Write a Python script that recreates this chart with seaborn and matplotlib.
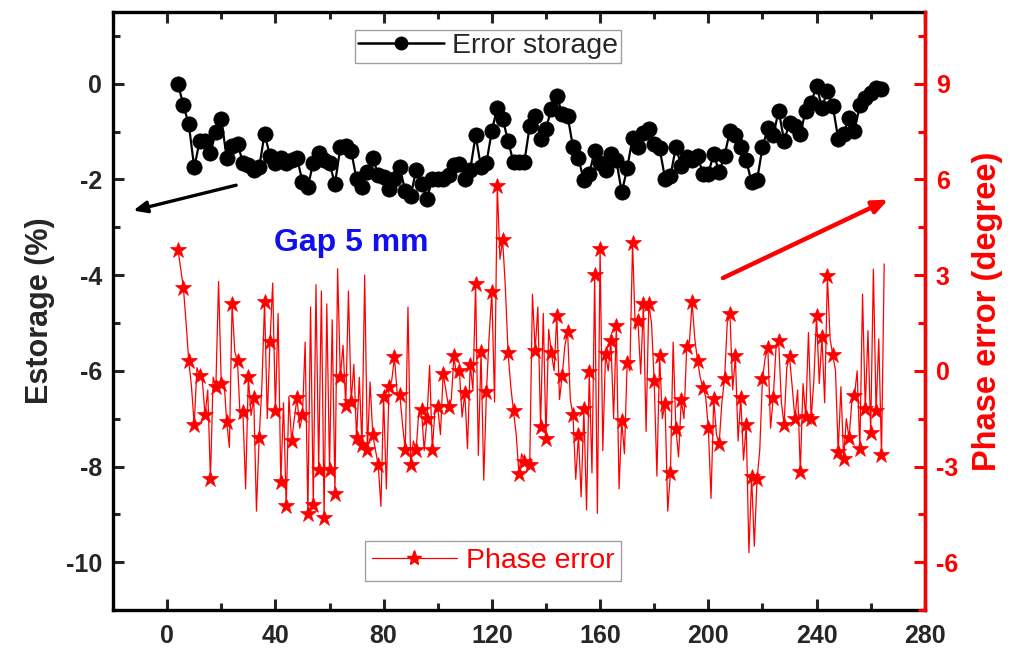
import numpy as np
import pandas as pd
import matplotlib
matplotlib.use("Agg")
import matplotlib.pyplot as plt
from matplotlib.lines import Line2D
import seaborn as sns

# ---------------- data ----------------
black_x = list(range(4, 265, 2))
black_y = [0.0, -0.45, -0.85, -1.75, -1.2, -1.2, -1.45, -1.0, -0.73, -1.55,
           -1.3, -1.25, -1.65, -1.7, -1.8, -1.75, -1.05, -1.5, -1.65, -1.55,
           -1.65, -1.6, -1.55, -2.05, -2.15, -1.65, -1.45, -1.6, -1.65, -2.1,
           -1.33, -1.3, -1.4, -2.0, -2.15, -1.85, -1.55, -1.9, -1.95, -2.2,
           -2.0, -1.75, -2.25, -2.35, -1.8, -2.1, -2.4, -2.0, -2.0, -2.0,
           -1.9, -1.7, -1.67, -1.98, -1.8, -1.08, -1.75, -1.65, -0.98, -0.5,
           -0.73, -1.2, -1.64, -1.64, -1.64, -0.88, -0.67, -1.15, -0.94, -0.52,
           -0.25, -0.63, -0.67, -1.33, -1.56, -2.02, -1.88, -1.4, -1.65, -1.8,
           -1.46, -1.6, -2.27, -1.77, -1.13, -1.33, -1.02, -0.94, -1.25, -1.35,
           -1.98, -1.92, -1.33, -1.71, -1.54, -1.6, -1.5, -1.88, -1.88, -1.46,
           -1.85, -1.5, -0.98, -1.08, -1.33, -1.6, -2.06, -2.02, -1.33, -0.92,
           -1.08, -0.56, -1.19, -0.83, -0.88, -1.04, -0.56, -0.4, -0.04, -0.5,
           -0.15, -0.46, -1.15, -1.04, -0.71, -0.98, -0.45, -0.3, -0.2, -0.08,
           -0.1]

red_x = list(range(4, 266))
red_y = [3.8, 3.2, 2.6, 1.5, 0.3, -0.5, -1.7, 0.1, -0.15, -0.3,
         -1.4, -0.6, -3.4, -0.2, -0.5, 2.8, -0.4, -0.3, -1.6, -2.4,
         2.1, 0.6, 0.3, -1.5, -1.3, -3.7, -0.2, -1.4, -0.85, -4.4,
         -2.1, -0.5, 2.15, -1.5, 0.9, 2.75, -1.25, 1.8, -3.5, -1.0,
         -4.25, -0.8, -2.2, -1.5, -0.85, -1.8, -1.4, 0.9, -4.5, 2.0,
         -4.2, 2.7, -3.1, 2.5, -4.6, 2.1, -3.1, 1.6, -3.85, 3.2,
         -0.2, 0.8, -1.1, 2.5, -0.98, 0.2, -2.12, -0.2, -2.33, 3.0,
         -2.49, -0.35, -2.02, -2.5, -2.96, -4.25, -0.82, -3.7, -0.51, -0.3,
         0.43, -0.7, -0.75, -1.7, -2.49, 2.0, -2.96, -2.2, -2.49, -1.3,
         -1.24, -2.5, -1.52, 0.17, -2.49, -1.2, -1.13, -2.0, -0.09, -0.6,
         -1.13, -0.9, 0.46, -0.2, 0.01, -1.45, -0.69, -2.44, 0.19, -0.6,
         2.72, -2.65, 0.6, -3.43, -0.65, 1.1, 2.46, -0.98, 5.81, 3.5,
         4.1, 2.6, 0.55, -0.5, -1.27, -2.0, -3.22, -2.6, -2.85, -3.0,
         -2.94, 2.4, 0.63, 2.0, -1.76, 1.8, -2.15, 1.3, 0.56, 0.0,
         1.73, -0.9, -0.15, 0.8, 1.21, -0.9, -1.4, -3.4, -2.02, -3.95,
         -1.19, -4.36, -0.04, -3.2, 3.0, -4.47, 3.83, -2.5, 0.53, 0.0,
         0.92, -1.5, 1.42, -3.7, -1.58, -2.6, 0.25, 0.0, 4.0, 1.3,
         1.57, -0.1, 2.09, -1.9, 2.09, 1.5, -0.33, -3.3, 0.48, -1.5,
         -1.03, -4.4, -3.19, 0.9, -1.81, -2.7, -0.93, -1.5, 0.74, 0.9,
         2.15, 1.0, 0.32, -0.2, -0.54, -0.8, -1.79, -4.0, -0.88, -2.0,
         -2.28, -1.0, -0.25, 1.5, 1.78, -0.6, 0.46, -2.2, -0.85, -2.8,
         -1.71, -5.7, -3.32, -5.5, -3.4, -2.5, -0.27, 0.4, 0.71, -1.8,
         -0.85, 0.7, 0.92, -1.0, -1.69, 0.1, 0.43, -0.5, -1.52, -0.6,
         -3.17, -0.4, -1.45, 1.2, -1.52, -0.3, 1.73, -0.4, 1.05, -1.0,
         2.98, 1.0, 0.5, 0.0, -2.56, -0.5, -2.75, -1.5, -2.12, -1.0,
         -0.79, 0.0, -2.46, 2.4, -1.21, 1.26, -1.94, 3.19, -1.27, 1.0,
         -2.65, 3.35]

x_ticks = [0, 40, 80, 120, 160, 200, 240, 280]
left_ticks = [0, -2, -4, -6, -8, -10]
right_ticks = [-6, -3, 0, 3, 6, 9]

black_df = pd.DataFrame({"x": black_x, "y": black_y})
red_df = pd.DataFrame({"x": red_x, "y": red_y})

# ---------------- style ----------------
sns.set_style("white")
plt.rcParams["font.family"] = ["Liberation Sans", "DejaVu Sans"]
plt.rcParams["axes.unicode_minus"] = False

RED = "#ff0000"
fig = plt.figure(figsize=(10.23, 6.53), dpi=100)
ax = fig.add_axes([0.1105, 0.0658, 0.7935, 0.9158])
ax2 = ax.twinx()

sns.lineplot(data=black_df, x="x", y="y", ax=ax, color="black", marker="o",
             markersize=11, markeredgecolor="black", markeredgewidth=0.5,
             linewidth=1.6, sort=False, errorbar=None, zorder=3)
sns.lineplot(data=red_df, x="x", y="y", ax=ax2, color=RED, marker="*",
             markersize=12, markeredgecolor=RED, markeredgewidth=0.5,
             linewidth=0.9, markevery=2, sort=False, errorbar=None)

ax.set_xlim(-20, 280)
ax.set_ylim(-11, 1.5)
ax2.set_ylim(-7.5, 11.25)

ax.set_xticks(x_ticks)
ax.set_xticks(np.arange(-20, 281, 20), minor=True)
ax.set_yticks(left_ticks)
ax.set_yticks(np.arange(-11, 1.6, 1), minor=True)
ax2.set_yticks(right_ticks)
ax2.set_yticks(np.arange(-7.5, 11.3, 1.5), minor=True)

ax.set_xlabel("")
ax.set_ylabel("Estorage (%)", fontsize=22, fontweight="bold", labelpad=8)
ax2.set_ylabel("Phase error (degree)", fontsize=23.5, fontweight="bold",
               color=RED, labelpad=10)

for sp in ax.spines.values():
    sp.set_linewidth(2.4)
    sp.set_color("black")
for name, sp in ax2.spines.items():
    sp.set_linewidth(2.4)
    sp.set_color(RED if name == "right" else "black")
ax2.spines["left"].set_visible(False)
ax2.spines["top"].set_visible(False)
ax2.spines["bottom"].set_visible(False)

ax.tick_params(axis="x", which="both", direction="in", top=True, bottom=True,
               width=2.2, labelsize=18, pad=10)
ax.tick_params(axis="x", which="major", length=8)
ax.tick_params(axis="x", which="minor", length=5)
ax.tick_params(axis="y", which="both", direction="in", left=True, right=False,
               width=2.2, labelsize=18, pad=8)
ax.tick_params(axis="y", which="major", length=8)
ax.tick_params(axis="y", which="minor", length=5)
ax2.tick_params(axis="y", which="both", direction="in", right=True, left=False,
                width=2.2, labelsize=18, colors=RED, pad=8)
ax2.tick_params(axis="y", which="major", length=8)
ax2.tick_params(axis="y", which="minor", length=5)
for lbl in ax.get_xticklabels() + ax.get_yticklabels() + ax2.get_yticklabels():
    lbl.set_fontweight("bold")

# text and arrows
ax.text(68, -3.33, "Gap 5 mm", color="#1010ee", fontsize=23,
        fontweight="bold", ha="center", va="center")
ax.annotate("", xy=(-12.5, -2.65), xytext=(25.5, -2.12),
            arrowprops=dict(arrowstyle="-|>,head_length=0.8,head_width=0.35",
                            color="black", lw=2.4, shrinkA=0, shrinkB=0))
ax.annotate("", xy=(266.5, -2.42), xytext=(205.4, -4.06),
            arrowprops=dict(arrowstyle="-|>,head_length=0.9,head_width=0.38",
                            color=RED, lw=3.2, shrinkA=0, shrinkB=0))

# legends
for a in (ax, ax2):
    lg = a.get_legend()
    if lg is not None:
        lg.remove()
hb = Line2D([], [], color="black", marker="o", markersize=9, linewidth=1.8)
hr = Line2D([], [], color=RED, marker="*", markersize=11, linewidth=0.9)
leg1 = ax2.legend([hb], ["Error storage"], loc="center",
                  bbox_to_anchor=(0.462, 0.943), fontsize=20.5, frameon=True,
                  fancybox=False, edgecolor="#888888", handlelength=3.0,
                  handletextpad=0.3, borderpad=0.12, borderaxespad=0,
                  numpoints=1)
leg1.get_frame().set_linewidth(1.0)
ax2.add_artist(leg1)
leg2 = ax2.legend([hr], ["Phase error"], loc="center",
                  bbox_to_anchor=(0.468, 0.082), fontsize=20.5, frameon=True,
                  fancybox=False, edgecolor="#888888", handlelength=3.0,
                  handletextpad=0.3, borderpad=0.25, borderaxespad=0,
                  numpoints=1, labelcolor=RED)
leg2.get_frame().set_linewidth(1.0)

fig.savefig("out.png", dpi=100)
